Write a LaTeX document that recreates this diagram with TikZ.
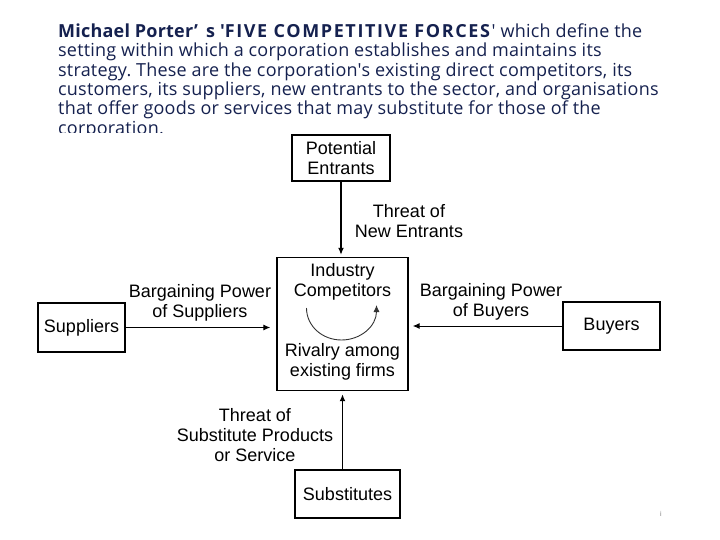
\documentclass[tikz,border=0pt]{standalone}
\usepackage{fontspec}
\setmainfont{Liberation Sans}
\newfontfamily\parafont[LetterSpace=1.2]{Open Sans}
\usetikzlibrary{arrows.meta,positioning}
\definecolor{navy}{HTML}{15214F}
\frenchspacing

\begin{document}
\begin{tikzpicture}[x=1pt,y=-1pt,
  box/.style={draw,line width=1.4pt,inner sep=0pt,align=center,font=\fontsize{18}{20}\selectfont},
  lbl/.style={anchor=base,inner sep=0pt,align=center,font=\fontsize{18}{20}\selectfont},
  force/.style={line width=1pt,-{Latex[length=7pt,width=6pt]}}]
\useasboundingbox (0,0) rectangle (720,540);
\begin{scope}
\clip (0,0) rectangle (720,133);
\node[anchor=base west,align=left,inner sep=0pt,text=navy,font=\parafont\fontsize{18}{19.4}\selectfont] (intro) at (58,134.3)
 {\textbf{Michael Porter’\hspace{.45em}s {\addfontfeature{LetterSpace=9}\textquotesingle FIVE COMPETITIVE FORCES}}\textquotesingle{} which define the\\
  setting within which a corporation establishes and maintains its\\
  strategy. These are the corporation\textquotesingle s existing direct competitors, its\\
  customers, its suppliers, new entrants to the sector, and organisations\\
  that offer goods or services that may substitute for those of the\\
  corporation.};
\end{scope}
\node[box,minimum width=98,minimum height=46] (entrants) at (341,158) {Potential\\Entrants};
\node[box,minimum width=131,minimum height=133] (industry) at (342.5,324) {};
\node[box,minimum width=87,minimum height=49] (suppliers) at (81.5,327.5) {Suppliers};
\node[box,minimum width=97,minimum height=48] (buyers) at (611.5,326) {Buyers};
\node[box,minimum width=105,minimum height=48] (substitutes) at (347.5,494) {Substitutes};
\node[lbl] (newthreat) at (409,237) {Threat of\\New Entrants};
\node[lbl] (supppower) at (200,317.5) {Bargaining Power\\of Suppliers};
\node[lbl] (buypower) at (491,316.5) {Bargaining Power\\of Buyers};
\node[lbl] (substhreat) at (255,461.7) {Threat of\\Substitute Products\\or Service};
\node[lbl] (compname) at (342.5,296.7) {Industry\\Competitors};
\node[lbl] (rivalry) at (342.5,376.7) {Rivalry among\\existing firms};
\node[text=gray,inner sep=0pt,font=\fontsize{7}{8}\selectfont] (pagemark) at (661,514) {i};
\draw[force,line width=1.3pt,shorten >=2pt] (entrants.south) -- (entrants.south |- industry.north);
\draw[force,shorten >=6pt] (suppliers.east) -- (suppliers.east -| industry.west);
\draw[force,shorten >=4pt] (buyers.west) -- (buyers.west -| industry.east);
\draw[force,line width=1.8pt,shorten >=3pt] (industry.south |- substitutes.north) -- (industry.south);
\draw[force,line width=0.9pt,draw=black!80] (306.5,308) .. controls (306.5,326) and (322.2,340) .. (341.5,340) .. controls (360.8,340) and (376.5,326) .. (376.5,305);
\end{tikzpicture}
\end{document}
